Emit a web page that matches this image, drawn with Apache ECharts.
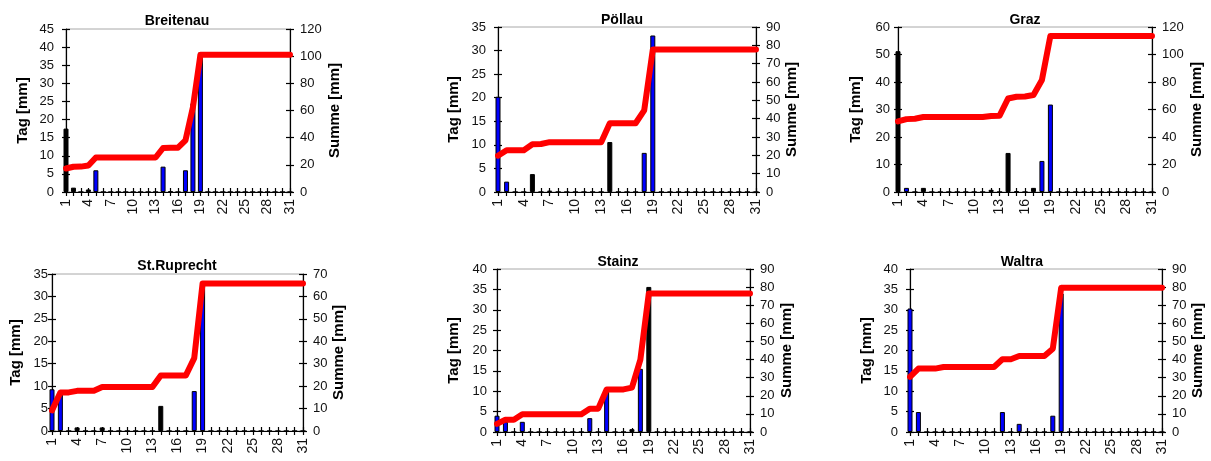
<!DOCTYPE html>
<html>
<head>
<meta charset="utf-8">
<script src="https://cdn.jsdelivr.net/npm/echarts@6/dist/echarts.min.js"></script>
<style>
  html, body { margin: 0; padding: 0; background: #fff; }
  #chart { width: 1211px; height: 461px; }
</style>
</head>
<body>
<div id="chart"></div>
<script>
const days = ['1','2','3','4','5','6','7','8','9','10','11','12','13','14','15','16',
  '17','18','19','20','21','22','23','24','25','26','27','28','29','30','31']

// daily precipitation (Tag) and running total (Summe), mm
const breitenauTag = [17.5, 1.2, 0, 0.7, 6, 0, 0, 0, 0, 0, 0, 0, 0, 7, 0.2, 0, 6, 24.5, 38.5, 0, 0, 0, 0, 0, 0, 0, 0, 0, 0, 0, 0]
const breitenauSumme = [17.3, 18.6, 18.7, 19.5, 25.4, 25.4, 25.4, 25.4, 25.4, 25.4, 25.4, 25.4, 25.4, 32.4, 32.5, 32.6, 38, 62.5, 101, 101, 101, 101, 101, 101, 101, 101, 101, 101, 101, 101, 101]

const poellauTag = [20.2, 2.2, 0, 0, 3.8, 0, 0.3, 0, 0, 0, 0, 0, 0, 10.6, 0, 0, 0, 8.3, 33.2, 0, 0, 0, 0, 0, 0, 0, 0, 0, 0, 0, 0]
const poellauSumme = [19.8, 22.8, 22.8, 22.8, 26, 26.2, 27.2, 27.2, 27.2, 27.2, 27.2, 27.2, 27.2, 37.5, 37.5, 37.5, 37.5, 44.5, 77.7, 77.7, 77.7, 77.7, 77.7, 77.7, 77.7, 77.7, 77.7, 77.7, 77.7, 77.7, 77.7]

const grazTag = [51.2, 1.5, 0, 1.5, 0, 0, 0, 0, 0, 0, 0, 0.8, 0, 14.2, 0.3, 0, 1.5, 11.3, 31.8, 0, 0, 0, 0, 0, 0, 0, 0, 0, 0, 0, 0]
const grazSumme = [51.3, 53, 53.3, 54.5, 54.5, 54.5, 54.5, 54.5, 54.5, 54.5, 54.5, 55.3, 55.5, 68, 69.3, 69.5, 70.5, 81.5, 113.5, 113.5, 113.5, 113.5, 113.5, 113.5, 113.5, 113.5, 113.5, 113.5, 113.5, 113.5, 113.5]

const ruprechtTag = [9.3, 8.7, 0, 0.8, 0, 0, 0.8, 0, 0, 0, 0, 0, 0, 5.6, 0, 0, 0, 8.9, 32.9, 0, 0, 0, 0, 0, 0, 0, 0, 0, 0, 0, 0]
const ruprechtSumme = [9.2, 17.2, 17.2, 17.9, 17.9, 17.9, 19.6, 19.6, 19.6, 19.6, 19.6, 19.6, 19.6, 24.8, 24.8, 24.8, 24.8, 32.5, 65.8, 65.8, 65.8, 65.8, 65.8, 65.8, 65.8, 65.8, 65.8, 65.8, 65.8, 65.8, 65.8]

const stainzTag = [4, 2.5, 0, 2.5, 0, 0, 0, 0, 0, 0, 0, 3.4, 0, 10.2, 0, 0, 0.7, 15.5, 35.6, 0, 0, 0, 0, 0, 0, 0, 0, 0, 0, 0, 0]
const stainzSumme = [4.5, 6.8, 6.8, 9.8, 9.8, 9.8, 9.8, 9.8, 9.8, 9.8, 9.8, 12.9, 12.9, 23.5, 23.5, 23.5, 24.5, 40, 76.5, 76.5, 76.5, 76.5, 76.5, 76.5, 76.5, 76.5, 76.5, 76.5, 76.5, 76.5, 76.5]

const waltraTag = [30.3, 4.9, 0, 0, 0.3, 0, 0, 0, 0, 0, 0, 4.9, 0, 2, 0, 0, 0, 4, 34, 0, 0, 0, 0, 0, 0, 0, 0, 0, 0, 0, 0]
const waltraSumme = [30.4, 35, 35, 35, 35.9, 35.9, 35.9, 35.9, 35.9, 35.9, 35.9, 40.2, 40.2, 42, 42, 42, 42, 46, 79.7, 79.7, 79.7, 79.7, 79.7, 79.7, 79.7, 79.7, 79.7, 79.7, 79.7, 79.7, 79.7]

// layout per panel: plot box, title centre, axis name gaps, label margins, bars that render dark
const stations = [
  { name: 'Breitenau', tag: breitenauTag, summe: breitenauSumme, tagMax: 45, tagStep: 5, sumMax: 120, sumStep: 20,
    box: [66, 29, 224, 163], title: [172, 9], gapL: 36, gapR: 37, marginL: 12, dark: [1, 2, 4, 15] },
  { name: 'Pöllau', tag: poellauTag, summe: poellauSumme, tagMax: 35, tagStep: 5, sumMax: 90, sumStep: 10,
    box: [498, 27, 258, 165], title: [617, 8], gapL: 37, gapR: 28, marginL: 12, dark: [5, 7, 14] },
  { name: 'Graz', tag: grazTag, summe: grazSumme, tagMax: 60, tagStep: 10, sumMax: 120, sumStep: 20,
    box: [898, 27, 254, 165], title: [1020, 8], gapL: 35, gapR: 37, marginL: 8, dark: [1, 4, 12, 14, 15, 17] },
  { name: 'St.Ruprecht', tag: ruprechtTag, summe: ruprechtSumme, tagMax: 35, tagStep: 5, sumMax: 70, sumStep: 10,
    box: [52, 274, 251, 157], title: [172, 254], gapL: 29, gapR: 27, marginL: 4, dark: [4, 7, 14] },
  { name: 'Stainz', tag: stainzTag, summe: stainzSumme, tagMax: 40, tagStep: 5, sumMax: 90, sumStep: 10,
    box: [497, 269, 253, 163], title: [613, 250], gapL: 36, gapR: 29, marginL: 10, dark: [17, 19] },
  { name: 'Waltra', tag: waltraTag, summe: waltraSumme, tagMax: 40, tagStep: 5, sumMax: 90, sumStep: 10,
    box: [910, 269, 252, 163], title: [1017, 250], gapL: 36, gapR: 18, marginL: 12, dark: [] }
]

const FONT = "'Liberation Sans', Arial, sans-serif"
const black = { color: '#000', width: 1.2 }

const grid = [], xAxis = [], yAxis = [], series = [], title = []

stations.forEach((s, i) => {
  grid.push({ left: s.box[0], top: s.box[1], width: s.box[2], height: s.box[3],
    show: true, borderColor: '#a8a8a8', borderWidth: 1 })

  title.push({ text: s.name, left: s.title[0], top: s.title[1], textAlign: 'center',
    textStyle: { fontFamily: FONT, fontSize: 14, fontWeight: 'bold', color: '#000' } })

  const xBase = { gridIndex: i, type: 'category', data: days, boundaryGap: false, position: 'bottom',
    splitLine: { show: false } }
  xAxis.push({ ...xBase,
    axisLine: { lineStyle: black },
    axisTick: { interval: 0, length: 4, lineStyle: black },
    axisLabel: { interval: 2, rotate: 90, margin: 7, fontFamily: FONT, fontSize: 14, color: '#111' } })
  xAxis.push({ ...xBase,
    axisLine: { show: false },
    axisTick: { interval: 0, inside: true, length: 4, lineStyle: black },
    axisLabel: { show: false } })

  const nameStyle = { fontFamily: FONT, fontSize: 15, fontWeight: 'bold', color: '#000' }
  const yl = { gridIndex: i, type: 'value', position: 'left', min: 0, max: s.tagMax, interval: s.tagStep,
    splitLine: { show: false } }
  const yr = { gridIndex: i, type: 'value', position: 'right', min: 0, max: s.sumMax, interval: s.sumStep,
    splitLine: { show: false } }
  yAxis.push({ ...yl, name: 'Tag [mm]', nameLocation: 'middle', nameGap: s.gapL, nameRotate: 90,
    nameTextStyle: nameStyle,
    axisLine: { show: true, lineStyle: black },
    axisTick: { show: true, length: 4, lineStyle: black },
    axisLabel: { margin: s.marginL, fontFamily: FONT, fontSize: 13, color: '#111' } })
  yAxis.push({ ...yl, axisLine: { show: false }, axisLabel: { show: false },
    axisTick: { show: true, inside: true, length: 4, lineStyle: black } })
  yAxis.push({ ...yr, name: 'Summe [mm]', nameLocation: 'middle', nameGap: s.gapR, nameRotate: 90,
    nameTextStyle: nameStyle,
    axisLine: { show: true, lineStyle: black },
    axisTick: { show: true, length: 4, lineStyle: black },
    axisLabel: { margin: 10, fontFamily: FONT, fontSize: 13, color: '#111' } })
  yAxis.push({ ...yr, axisLine: { show: false }, axisLabel: { show: false },
    axisTick: { show: true, inside: true, length: 4, lineStyle: black } })

  series.push({
    type: 'bar', xAxisIndex: 2 * i, yAxisIndex: 4 * i, barWidth: 5,
    itemStyle: { color: '#0000ff', borderColor: '#000', borderWidth: 1 },
    data: s.tag.map((v, d) => s.dark.includes(d + 1) ? { value: v, itemStyle: { color: '#000' } } : v),
    z: 2
  })
  series.push({
    type: 'line', xAxisIndex: 2 * i, yAxisIndex: 4 * i + 2, data: s.summe,
    showSymbol: false, symbol: 'none',
    lineStyle: { color: '#ff0000', width: 6, cap: 'round', join: 'round' },
    z: 3
  })
})

const chart = echarts.init(document.getElementById('chart'), null, { renderer: 'canvas' })
chart.setOption({ animation: false, title, grid, xAxis, yAxis, series })
</script>
</body>
</html>
